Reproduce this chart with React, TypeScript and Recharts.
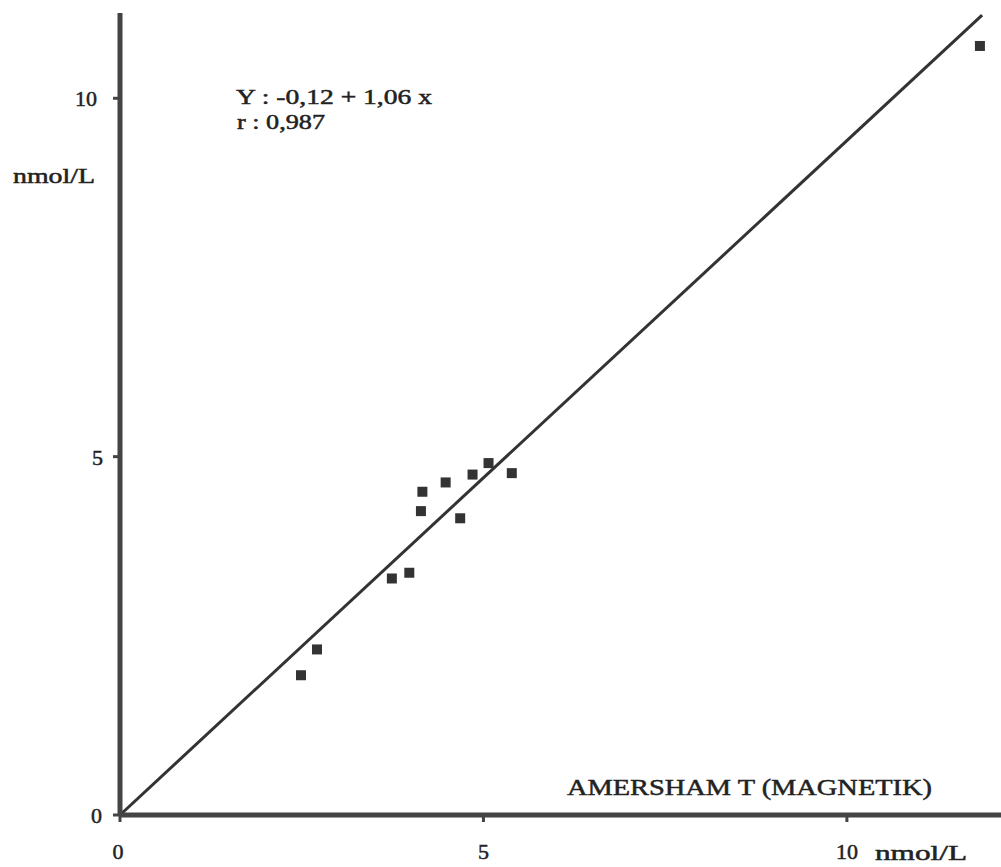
import React from "react";
import {
  ScatterChart,
  Scatter,
  XAxis,
  YAxis,
  ReferenceLine,
} from "recharts";

// Measured values (AMERSHAM T (MAGNETIK) vs comparison, nmol/L)
const xValues = [2.49, 2.71, 3.74, 3.98, 4.14, 4.16, 4.48, 4.68, 4.85, 5.07, 5.39, 11.83];
const yValues = [1.95, 2.31, 3.3, 3.38, 4.24, 4.51, 4.64, 4.14, 4.75, 4.91, 4.77, 10.73];

// Regression line as drawn on the figure
const lineStart = { x: 0, y: 0 };
const lineEnd = { x: 11.86, y: 11.16 };

const xTicks = [0, 5, 10];
const yTicks = [0, 5, 10];
const xDomain: [number, number] = [0, 12.12];
const yDomain: [number, number] = [0, 11.19];

const equationText = "Y : -0,12 + 1,06 x";
const rText = "r : 0,987";
const yUnit = "nmol/L";
const xUnit = "nmol/L";
const xTitle = "AMERSHAM T (MAGNETIK)";

const points = xValues.map((x, i) => ({ x, y: yValues[i] }));

const FONT = '"Liberation Serif", "DejaVu Serif", serif';
const INK = "#222";

const Square = (p: any) => (
  <rect x={p.cx - 5} y={p.cy - 5} width={10} height={10} fill="#333" />
);

const YTick = (p: any) => {
  const v = p.payload.value;
  const xEnd = v === 10 ? 97 : v === 5 ? 103 : 102;
  return (
    <text
      x={xEnd}
      y={p.y + 8}
      textAnchor="end"
      fontFamily={FONT}
      fontSize={22}
      fill={INK}
      stroke={INK}
      strokeWidth={0.5}
    >
      {v}
    </text>
  );
};

const XTick = (p: any) => {
  const v = p.payload.value;
  return (
    <text
      x={p.x - (v === 0 ? 2 : 0)}
      y={859}
      textAnchor="middle"
      fontFamily={FONT}
      fontSize={22}
      fill={INK}
      stroke={INK}
      strokeWidth={0.5}
    >
      {v}
    </text>
  );
};

export default function App() {
  return (
    <div
      style={{
        position: "absolute",
        left: 0,
        top: 0,
        width: 1001,
        height: 867,
        background: "#fff",
        overflow: "hidden",
      }}
    >
      <ScatterChart
        width={1001}
        height={867}
        margin={{ top: 13, right: 0, left: 0, bottom: 0 }}
      >
        <XAxis
          type="number"
          dataKey="x"
          domain={xDomain}
          ticks={xTicks}
          allowDataOverflow
          height={52}
          axisLine={{ stroke: "#444", strokeWidth: 5 }}
          tickLine={{ stroke: "#444", strokeWidth: 3 }}
          tickSize={7}
          tick={<XTick />}
        />
        <YAxis
          type="number"
          dataKey="y"
          domain={yDomain}
          ticks={yTicks}
          allowDataOverflow
          width={120}
          axisLine={{ stroke: "#444", strokeWidth: 5 }}
          tickLine={{ stroke: "#444", strokeWidth: 3 }}
          tickSize={7}
          tick={<YTick />}
        />
        <ReferenceLine
          segment={[lineStart, lineEnd]}
          stroke="#333"
          strokeWidth={3}
        />
        <Scatter
          data={points}
          shape={<Square />}
          isAnimationActive={false}
        />
      </ScatterChart>
      <svg
        width={1001}
        height={867}
        style={{ position: "absolute", left: 0, top: 0, pointerEvents: "none" }}
      >
        <g fontFamily={FONT} fill={INK} stroke={INK} strokeWidth={0.5}>
          <text x={236} y={104} fontSize={21} textLength={196} lengthAdjust="spacingAndGlyphs">
            {equationText}
          </text>
          <text x={237} y={129} fontSize={21} textLength={88} lengthAdjust="spacingAndGlyphs">
            {rText}
          </text>
          <text x={13} y={183} fontSize={21} textLength={82} lengthAdjust="spacingAndGlyphs">
            {yUnit}
          </text>
          <text x={567} y={795} fontSize={24} textLength={365} lengthAdjust="spacingAndGlyphs">
            {xTitle}
          </text>
          <text x={875} y={860} fontSize={21} textLength={92} lengthAdjust="spacingAndGlyphs">
            {xUnit}
          </text>
        </g>
      </svg>
    </div>
  );
}
